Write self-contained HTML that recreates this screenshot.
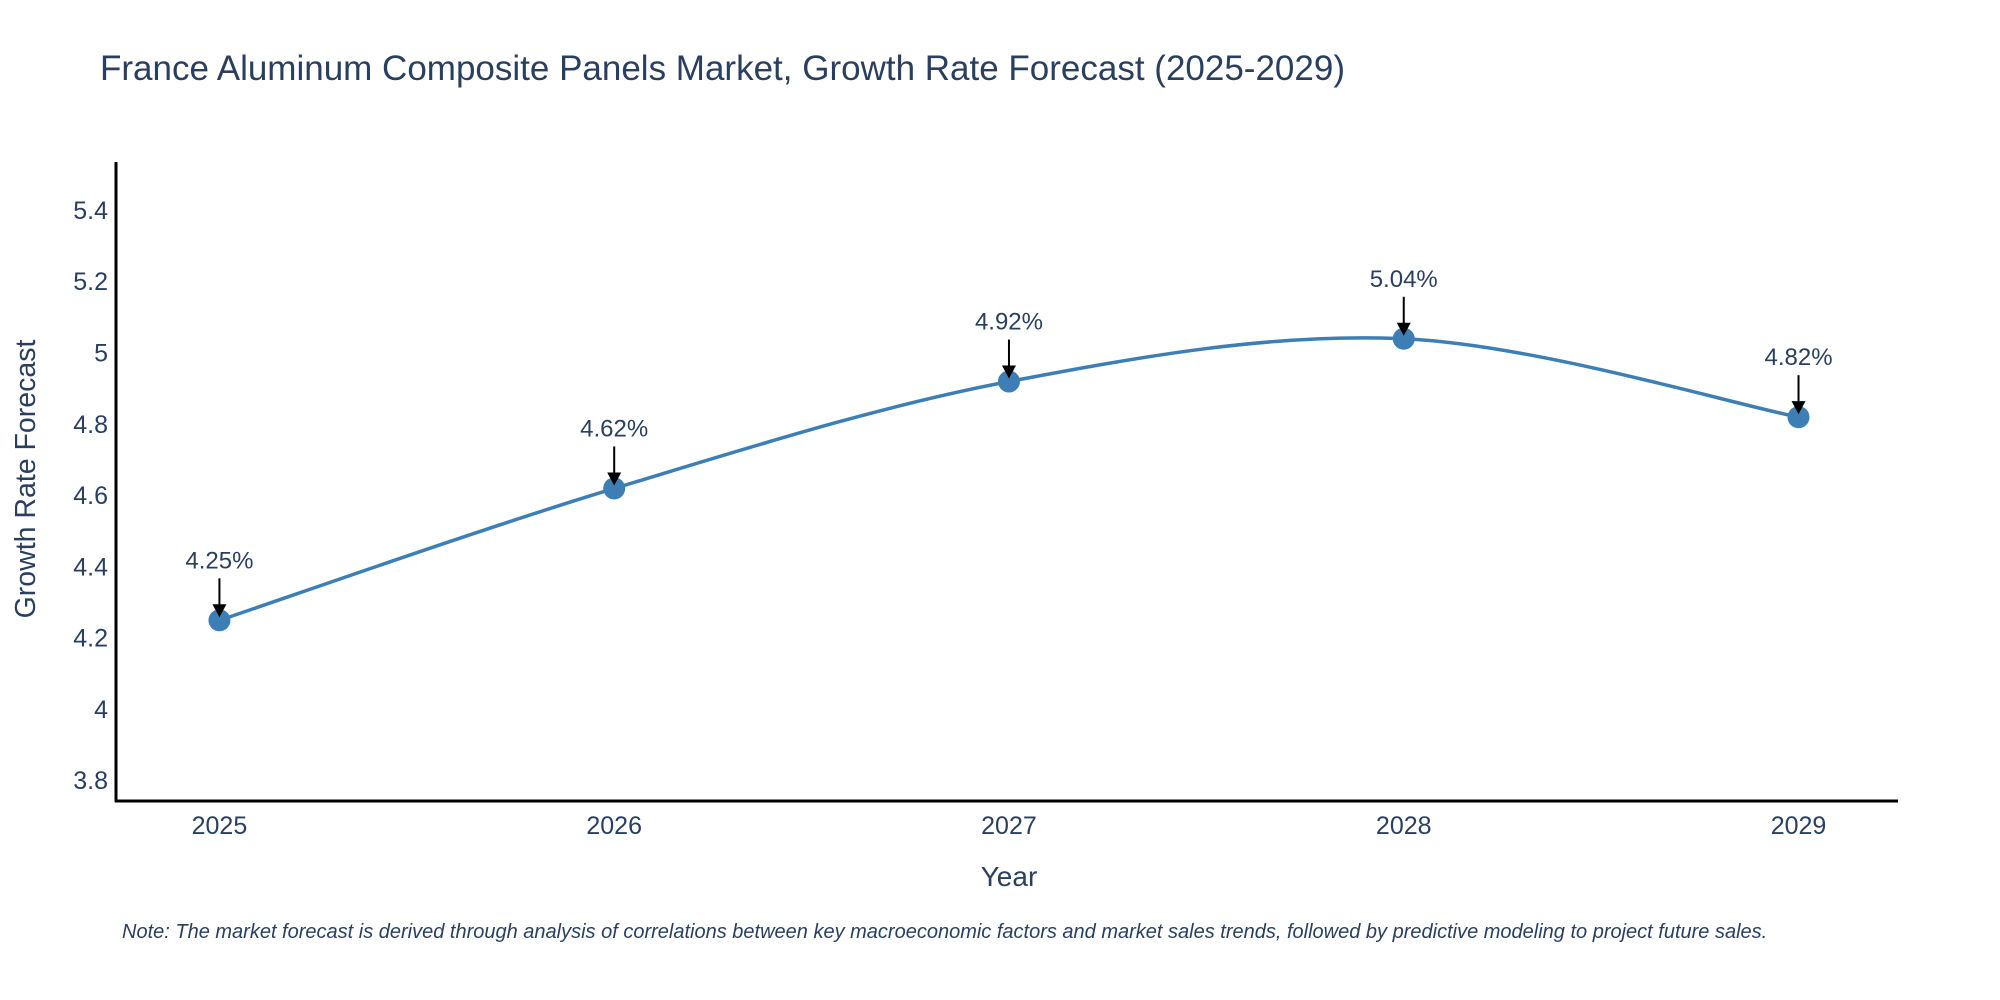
<!DOCTYPE html>
<html><head><meta charset="utf-8">
<style>
html,body{margin:0;padding:0;background:#fff;}
svg{display:block;font-family:"Liberation Sans",sans-serif;}
</style></head>
<body>
<svg id="chart" width="2000" height="1000" viewBox="0 0 2000 1000" xmlns="http://www.w3.org/2000/svg">
<rect width="2000" height="1000" fill="#fff"/>
<text x="100" y="80" font-size="35" fill="#2a3f5f">France Aluminum Composite Panels Market, Growth Rate Forecast (2025-2029)</text>
<g id="yticks"></g>
<g id="xticks"></g>
<path id="line" fill="none" stroke="#3d7fb5" stroke-width="3.5"/>
<g id="points"></g>
<g id="annots"></g>
<line x1="116" y1="162" x2="116" y2="802" stroke="#000" stroke-width="3"/>
<line x1="115" y1="801" x2="1898" y2="801" stroke="#000" stroke-width="3"/>
<text x="0" y="0" transform="translate(35,479) rotate(-90)" text-anchor="middle" font-size="28.5" fill="#2a3f5f">Growth Rate Forecast</text>
<text x="1009" y="886" text-anchor="middle" font-size="28" fill="#2a3f5f">Year</text>
<text x="122" y="938" font-size="20" font-style="italic" fill="#2a3f5f">Note: The market forecast is derived through analysis of correlations between key macroeconomic factors and market sales trends, followed by predictive modeling to project future sales.</text>
</svg>
<script>
const years = [2025, 2026, 2027, 2028, 2029];
const values = [4.25, 4.62, 4.92, 5.04, 4.82];
const yTicks = [3.8, 4, 4.2, 4.4, 4.6, 4.8, 5, 5.2, 5.4];
const yTickLabels = ["3.8", "4", "4.2", "4.4", "4.6", "4.8", "5", "5.2", "5.4"];
const pointLabels = ["4.25%", "4.62%", "4.92%", "5.04%", "4.82%"];

const NS = "http://www.w3.org/2000/svg";
const X0 = 116, X1 = 1898, XMIN = 2024.738, XMAX = 2029.252;
const Y0 = 801, Y1 = 162, YMIN = 3.743, YMAX = 5.536;
function xs(v){ return X0 + (v - XMIN) / (XMAX - XMIN) * (X1 - X0); }
function ys(v){ return Y0 - (v - YMIN) / (YMAX - YMIN) * (Y0 - Y1); }
function mk(tag, attrs, parent){ const e = document.createElementNS(NS, tag); for (const k in attrs) e.setAttribute(k, attrs[k]); parent.appendChild(e); return e; }

const yg = document.getElementById('yticks');
yTicks.forEach((t, i) => {
  const tx = mk('text', {x: 108, y: ys(t) + 8.5, 'text-anchor': 'end', 'font-size': 25, fill: '#2a3f5f'}, yg);
  
  
  tx.textContent = yTickLabels[i];
});
const xg = document.getElementById('xticks');
years.forEach(y => {
  const tx = mk('text', {x: xs(y), y: 834, 'text-anchor': 'middle', 'font-size': 25, fill: '#2a3f5f'}, xg);
  
  
  tx.textContent = String(y);
});

const pts = years.map((y, i) => [xs(y), ys(values[i])]);
let d = 'M' + pts[0][0] + ',' + pts[0][1];
const s = 1/6;
for (let i = 0; i < pts.length - 1; i++) {
  const p0 = pts[Math.max(0, i - 1)], p1 = pts[i], p2 = pts[i + 1], p3 = pts[Math.min(pts.length - 1, i + 2)];
  const c1 = [p1[0] + (p2[0] - p0[0]) * s, p1[1] + (p2[1] - p0[1]) * s];
  const c2 = [p2[0] - (p3[0] - p1[0]) * s, p2[1] - (p3[1] - p1[1]) * s];
  d += ' C' + c1[0] + ',' + c1[1] + ' ' + c2[0] + ',' + c2[1] + ' ' + p2[0] + ',' + p2[1];
}
document.getElementById('line').setAttribute('d', d);

const pg = document.getElementById('points');
const ag = document.getElementById('annots');
pts.forEach((p, i) => {
  const c = mk('circle', {cx: p[0], cy: p[1], r: 11, fill: '#3d7fb5'}, pg);
  
  
  const ln = mk('line', {x1: p[0], y1: p[1] - 42, x2: p[0], y2: p[1] - 14, stroke: '#000', 'stroke-width': 2}, ag);
  
  
  const hd = mk('path', {d: 'M' + (p[0] - 7) + ',' + (p[1] - 16) + ' L' + (p[0] + 7) + ',' + (p[1] - 16) + ' L' + p[0] + ',' + (p[1] - 3) + 'Z', fill: '#000'}, ag);
  
  
  const tx = mk('text', {x: p[0], y: p[1] - 52, 'text-anchor': 'middle', 'font-size': 24, fill: '#2a3f5f'}, ag);
  
  
  tx.textContent = pointLabels[i];
});
</script>
</body></html>
